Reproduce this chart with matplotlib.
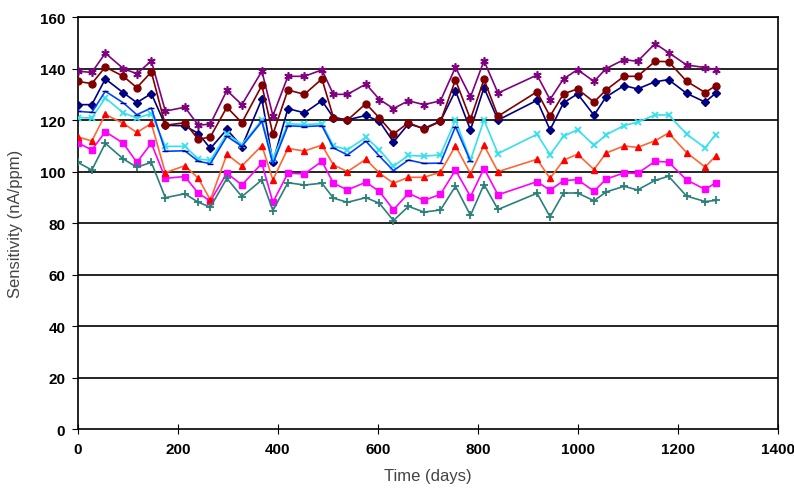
import matplotlib.pyplot as plt

plt.rcParams['font.family'] = ['Liberation Sans Narrow', 'Liberation Sans', 'DejaVu Sans']

days = [0, 28, 55, 91, 118, 147, 175, 214, 241, 265, 298, 328, 368, 390, 420, 453, 488,
        511, 539, 576, 603, 631, 661, 692, 725, 755, 785, 812, 840, 918, 944, 971, 999,
        1032, 1056, 1092, 1119, 1154, 1181, 1217, 1254, 1275]

purple = [139, 138.5, 146, 140, 138, 143, 123.5, 125, 118, 118.5, 131.5, 126, 139, 121.7,
          137, 137, 139.5, 130, 130, 134, 128, 124.5, 127.5, 126, 127.5, 140.5, 129, 143,
          130.5, 137.5, 128, 136, 139.6, 135, 140, 143.5, 142.8, 149.7, 146.2, 141.4, 140.4, 139.6]
brown = [135, 134.2, 140.6, 137, 132.6, 138.7, 118, 119, 112.5, 113.5, 125, 119, 133.5, 114.5,
         131.7, 130, 136, 121, 120, 126.4, 120.8, 114.6, 119, 116.5, 119.5, 135.6, 120.3, 135.8,
         121.5, 131, 121.5, 130.2, 132.1, 127, 131.7, 137, 137, 142.8, 142.7, 135.1, 130.7, 133.3]
navy = [126, 126, 136, 130.6, 126.8, 130.3, 118, 117.8, 114.8, 109, 116.4, 109.7, 128.2, 103.6,
        124.5, 122.8, 127.5, 121, 120.1, 121.8, 119.5, 111.5, 118.5, 116.8, 119.6, 131.4, 116.2,
        132.6, 120, 127.7, 116.2, 126.7, 130.2, 121.9, 129, 133.4, 132.1, 134.9, 135.7, 130.4, 127, 130.4]
blue_days = days[:27]
blue = [123.4, 123, 131.2, 126.7, 122.1, 124.7, 107.9, 108.1, 104, 103.1, 113.7, 109.8, 119.5,
        103, 117.8, 117.5, 117.8, 109.2, 106.5, 111.8, 106, 100.4, 104.5, 103.2, 103.3, 117.5, 104]
cyan = [121, 120.8, 128.6, 122.8, 120.8, 122.5, 109.8, 109.8, 104.9, 104.4, 114.7, 110.5, 120, 105,
        118.6, 118.3, 118.6, 110, 108.5, 113.3, 108.5, 102.1, 106.3, 106, 106.5, 120, 104.5, 120,
        107, 114.5, 106.6, 113.7, 116.3, 110.2, 114.3, 117.9, 119.2, 122, 122, 114.6, 109.2, 114.4]
red = [113.5, 111.9, 122.2, 118.7, 115.2, 118.7, 99.6, 102.3, 97.4, 89, 106.7, 102.2, 110.1, 96.8,
       109, 108, 110.3, 102.6, 100, 104.8, 99.4, 95.5, 97.8, 97.8, 99.8, 110, 99.2, 110.2, 100,
       104.8, 97.4, 104.4, 106.8, 100.8, 107.2, 110, 109.4, 112, 115, 107.4, 101.8, 106]
magenta = [111.2, 108.4, 115.5, 111, 103.6, 111, 97.4, 98.1, 91.6, 88.6, 99.4, 94.8, 103.2, 88.1,
           99.4, 99.1, 104, 95.5, 92.9, 95.9, 92.3, 85.2, 91.6, 88.8, 91.2, 100.6, 90.3, 101.2, 91,
           96.1, 92.8, 96.5, 96.9, 92.4, 97.1, 99.5, 99.3, 104, 103.7, 96.8, 93.1, 95.6]
teal = [103.6, 100.6, 111, 104.9, 101.7, 103.6, 89.9, 91.4, 88.1, 86.2, 97.4, 90.3, 96.8, 84.9,
        95.7, 94.8, 95.5, 89.7, 88.1, 89.9, 87.7, 81, 86.5, 84.3, 85.1, 94.3, 83, 95, 85.3, 91.6,
        82.5, 91.7, 91.7, 88.7, 92.1, 94.3, 92.9, 96.6, 98.2, 90.5, 88.4, 88.8]

fig = plt.figure(figsize=(7.94, 5.02), dpi=100)
ax = fig.add_axes([0.098, 0.143, 0.882, 0.821])

for y in range(20, 161, 20):
    ax.axhline(y, color='black', lw=1.2, zorder=1)

ax.plot(days, navy, color='#000080', marker='D', ms=4, lw=1.2, zorder=3)
ax.plot(days, magenta, color='#FF00FF', marker='s', ms=5, lw=1.2, zorder=3)
ax.plot(days, red, color='#FF6633', marker='^', ms=5, mfc='#FF0000', mec='#FF0000', lw=1.2, zorder=3)
ax.plot(days, cyan, color='#33E0EE', marker='x', ms=5, mew=1.3, lw=1.2, zorder=3)
ax.plot(days, purple, color='#800080', marker=(6, 2, 0), ms=6, mew=1.2, lw=1.2, zorder=3)
ax.plot(days, brown, color='#800000', marker='o', ms=5, lw=1.2, zorder=3)
ax.plot(days, teal, color='#2A8078', marker='+', ms=6, mew=1.3, lw=1.2, zorder=3)
ax.plot(blue_days, blue, color='#0044FF', marker='_', ms=4, mec='#000080', lw=1.2, zorder=3)

ax.set_xlim(0, 1400)
ax.set_ylim(0, 160)
ax.set_xticks(range(0, 1401, 200))
ax.set_yticks(range(0, 161, 20))
for s in ax.spines.values():
    s.set_color('black')
    s.set_linewidth(1.2)
ax.tick_params(axis='x', direction='inout', length=7, labelsize=11, pad=6)
ax.tick_params(axis='y', direction='out', length=4, labelsize=11, pad=5)
for lab in ax.get_xticklabels() + ax.get_yticklabels():
    lab.set_fontweight('bold')

ax.set_xlabel('Time (days)', fontsize=12, color='#444444', labelpad=8)
ax.set_ylabel('Sensitivity (nA/ppm)', fontsize=12, color='#444444', labelpad=12)

plt.savefig('out.png', dpi=100)
